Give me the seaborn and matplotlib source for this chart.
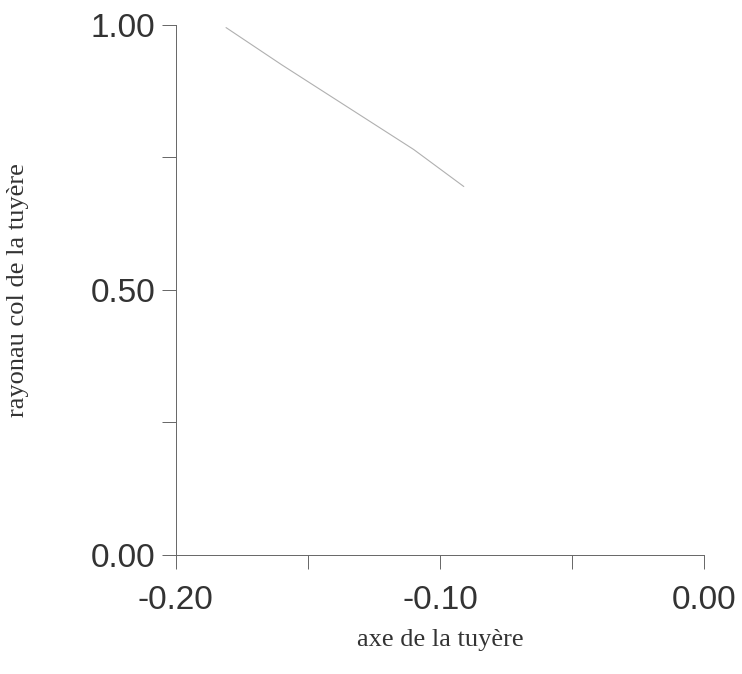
import matplotlib
matplotlib.use("Agg")
import numpy as np
import pandas as pd
import seaborn as sns
import matplotlib.pyplot as plt

# contour points (axial position, throat radius)
axe = [-0.181, -0.160, -0.135, -0.110, -0.091]
rayon = [0.995, 0.925, 0.845, 0.765, 0.695]

x_ticks = [-0.20, -0.15, -0.10, -0.05, 0.00]
x_labels = ["-0.20", "", "-0.10", "", "0.00"]
y_ticks = [0.00, 0.25, 0.50, 0.75, 1.00]
y_labels = ["0.00", "", "0.50", "", "1.00"]

df = pd.DataFrame({"axe": axe, "rayon": rayon})

sns.set_theme(style="ticks")
plt.rcParams["font.family"] = ["Liberation Sans", "DejaVu Sans"]

fig = plt.figure(figsize=(7.42, 6.74), dpi=100)
ax = fig.add_axes([0.237, 0.177, 0.712, 0.786])

sns.lineplot(data=df, x="axe", y="rayon", ax=ax, color="#b0b0b0", linewidth=0.8)

ax.set_xlim(-0.20, 0.00)
ax.set_ylim(0.00, 1.00)
ax.set_xticks(x_ticks)
ax.set_xticklabels(x_labels)
ax.set_yticks(y_ticks)
ax.set_yticklabels(y_labels)
ax.tick_params(axis="both", direction="out", length=10, width=0.7, color="#666666",
               labelsize=24, labelcolor="#333333")
ax.tick_params(axis="x", pad=12)
ax.tick_params(axis="y", pad=5)

for side in ["left", "bottom"]:
    ax.spines[side].set_color("#666666")
    ax.spines[side].set_linewidth(0.7)
sns.despine(ax=ax)

ax.set_xlabel("axe de la tuyère", fontfamily="Liberation Serif", fontsize=19,
              color="#333333", labelpad=9)
ax.set_ylabel("rayonau col de la tuyère", fontfamily="Liberation Serif", fontsize=19,
              color="#333333", labelpad=44)

fig.savefig("out.png", dpi=100, facecolor="white")
